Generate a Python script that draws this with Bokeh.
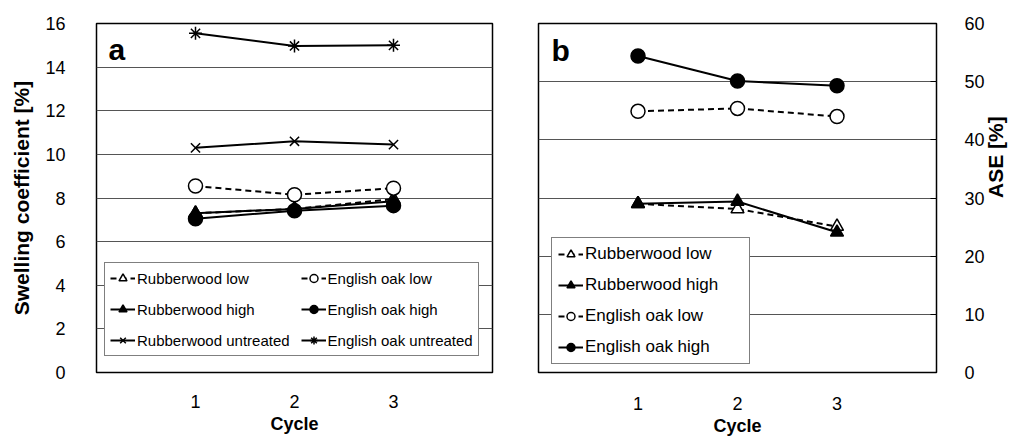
import math
from bokeh.plotting import figure
from bokeh.models import Legend, LegendItem, FixedTicker, Label, Range1d, Title
from bokeh.layouts import row
from bokeh.embed import file_html
from bokeh.resources import INLINE

cycles = [1, 2, 3]

# Panel a: swelling coefficient [%]
sc_rw_low = [7.3, 7.5, 7.95]
sc_rw_high = [7.3, 7.5, 7.85]
sc_rw_untreated = [10.3, 10.6, 10.45]
sc_eo_low = [8.55, 8.15, 8.45]
sc_eo_high = [7.05, 7.42, 7.65]
sc_eo_untreated = [15.55, 14.97, 15.0]

# Panel b: ASE [%]
ase_rw_low = [29.0, 28.1, 25.1]
ase_rw_high = [29.0, 29.4, 24.1]
ase_eo_low = [44.9, 45.4, 44.0]
ase_eo_high = [54.4, 50.1, 49.3]

FONT = "Liberation Sans"


def style(p):
    p.outline_line_color = "black"
    p.outline_line_width = 1.5
    p.xgrid.grid_line_color = None
    p.ygrid.grid_line_color = "#555555"
    p.ygrid.grid_line_width = 1
    p.background_fill_color = "white"
    p.border_fill_color = "white"
    p.xaxis.ticker = FixedTicker(ticks=[1, 2, 3])
    for ax in p.axis:
        ax.axis_line_color = None
        ax.major_tick_line_color = None
        ax.major_tick_in = 0
        ax.major_tick_out = 0
        ax.minor_tick_line_color = None
        ax.minor_tick_in = 0
        ax.minor_tick_out = 0
        ax.major_label_text_font = FONT
        ax.major_label_text_font_size = "18px"
        ax.major_label_text_color = "black"
        ax.axis_label_text_font = FONT
        ax.axis_label_text_font_size = "18px"
        ax.axis_label_text_font_style = "bold"
        ax.axis_label_text_color = "black"


def series(p, x, y, marker, fill, dash, size):
    ln = p.line(x, y, line_color="black", line_width=2, line_dash=dash)
    sc = p.scatter(x, y, marker=marker, size=size, fill_color=fill,
                   line_color="black", line_width=1.5)
    return [ln, sc]


def style_legend(leg, size, padding, spacing, label_width):
    leg.label_text_font = FONT
    leg.label_text_font_size = size
    leg.label_text_color = "black"
    leg.glyph_width = 25
    leg.glyph_height = 20
    leg.label_height = 20
    leg.label_width = label_width
    leg.label_standoff = 2
    leg.spacing = spacing
    leg.padding = padding
    leg.margin = 0
    leg.border_line_color = "black"
    leg.border_line_width = 1
    leg.background_fill_color = "white"
    leg.background_fill_alpha = 1.0


# ---------------- Panel a ----------------
pa = figure(width=510, height=441, output_backend="svg", toolbar_location=None,
            x_range=Range1d(0, 4), y_range=Range1d(0, 16),
            min_border_left=96, min_border_right=18, min_border_top=23,
            min_border_bottom=69)
style(pa)
pa.yaxis.ticker = FixedTicker(ticks=list(range(0, 17, 2)))
pa.ygrid.ticker = FixedTicker(ticks=list(range(2, 16, 2)))
pa.yaxis.axis_label = "Swelling coefficient [%]"
pa.yaxis.axis_label_text_font_size = "21px"
pa.xaxis.axis_label = "Cycle"
pa.yaxis.major_label_standoff = 31
pa.yaxis.axis_label_standoff = 9
pa.xaxis.major_label_standoff = 22
pa.xaxis.axis_label_standoff = 3

r_rw_low = series(pa, cycles, sc_rw_low, "triangle", "white", "6 4", 13)
r_rw_high = series(pa, cycles, sc_rw_high, "triangle", "black", "solid", 13)
r_rw_un = series(pa, cycles, sc_rw_untreated, "x", "white", "solid", 13)
r_eo_low = series(pa, cycles, sc_eo_low, "circle", "white", "6 4", 14)
r_eo_high = series(pa, cycles, sc_eo_high, "circle", "black", "solid", 14)
r_eo_un = series(pa, cycles, sc_eo_untreated, "asterisk", "white", "solid", 13)

leg_a = Legend(items=[
    LegendItem(label="Rubberwood low", renderers=r_rw_low),
    LegendItem(label="Rubberwood high", renderers=r_rw_high),
    LegendItem(label="Rubberwood untreated", renderers=r_rw_un),
    LegendItem(label="English oak low", renderers=r_eo_low),
    LegendItem(label="English oak high", renderers=r_eo_high),
    LegendItem(label="English oak untreated", renderers=r_eo_un),
], ncols=2, location=(8, 16))
style_legend(leg_a, "15px", 5, 11, 20)
pa.add_layout(leg_a, "center")

pa.add_layout(Label(x=0.12, y=14.8, text="a", text_font=FONT, text_font_size="30px",
                    text_font_style="bold", text_baseline="alphabetic",
                    text_color="black"))

# ---------------- Panel b ----------------
pb = figure(width=511, height=441, output_backend="svg", toolbar_location=None,
            x_range=Range1d(0, 4), y_range=Range1d(0, 60), y_axis_location="right",
            min_border_left=28, min_border_right=83, min_border_top=23,
            min_border_bottom=68)
style(pb)
pb.yaxis.ticker = FixedTicker(ticks=list(range(0, 61, 10)))
pb.ygrid.ticker = FixedTicker(ticks=list(range(10, 60, 10)))
pb.xaxis.axis_label = "Cycle"
pb.yaxis.major_tick_line_color = "black"
pb.yaxis.major_tick_in = 6
pb.yaxis.major_tick_out = 0
pb.yaxis.major_label_standoff = 28
pb.xaxis.major_label_standoff = 24
pb.xaxis.axis_label_standoff = 3

try:
    pb.yaxis.axis_label_orientation = math.pi / 2
    pb.yaxis.axis_label = "ASE [%]"
    pb.yaxis.axis_label_text_font_size = "21px"
    pb.yaxis.axis_label_standoff = 8
except Exception:
    pb.add_layout(Title(text="ASE [%]", align="center", text_font=FONT,
                        text_font_size="21px", text_font_style="bold",
                        text_color="black"), "right")

b_rw_low = series(pb, cycles, ase_rw_low, "triangle", "white", "6 4", 13)
b_rw_high = series(pb, cycles, ase_rw_high, "triangle", "black", "solid", 13)
b_eo_low = series(pb, cycles, ase_eo_low, "circle", "white", "6 4", 14)
b_eo_high = series(pb, cycles, ase_eo_high, "circle", "black", "solid", 14)

leg_b = Legend(items=[
    LegendItem(label="Rubberwood low", renderers=b_rw_low),
    LegendItem(label="Rubberwood high", renderers=b_rw_high),
    LegendItem(label="English oak low", renderers=b_eo_low),
    LegendItem(label="English oak high", renderers=b_eo_high),
], location=(13, 8))
style_legend(leg_b, "17px", 6, 11, 158)
pb.add_layout(leg_b, "center")

pb.add_layout(Label(x=0.13, y=55.4, text="b", text_font=FONT, text_font_size="30px",
                    text_font_style="bold", text_baseline="alphabetic",
                    text_color="black"))

layout = row(pa, pb)
open("out.html", "w").write(file_html(layout, INLINE))
